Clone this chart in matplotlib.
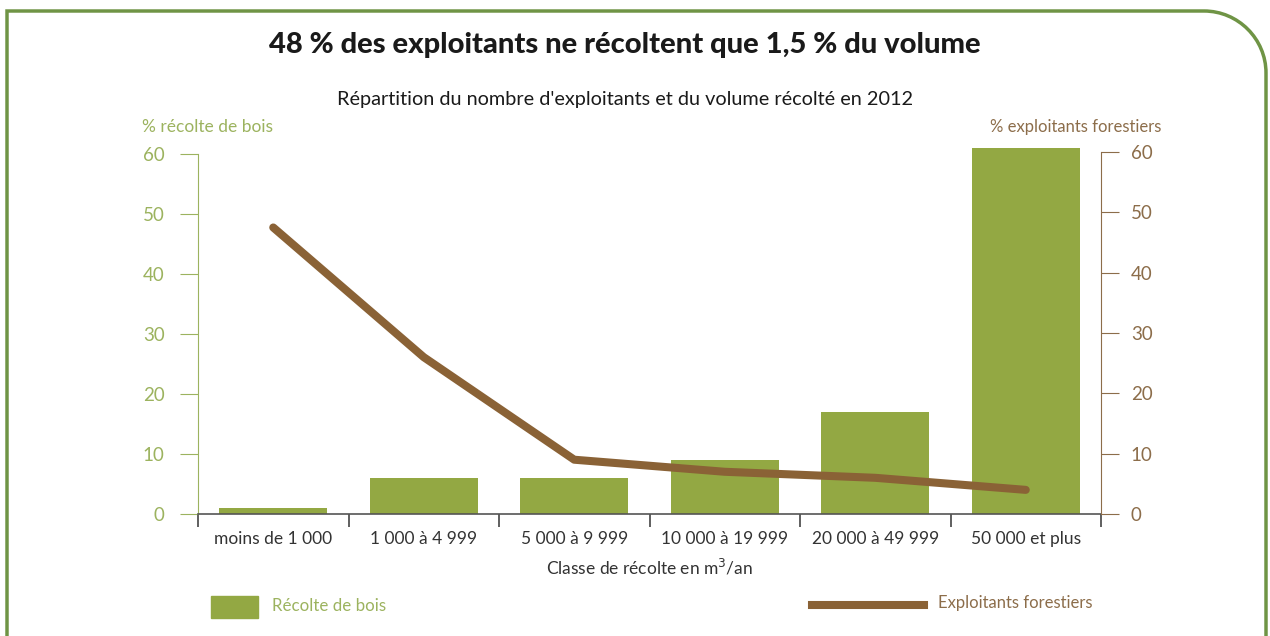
import matplotlib
matplotlib.use("Agg")
import matplotlib.pyplot as plt
from matplotlib.path import Path
from matplotlib.patches import PathPatch, Rectangle
from matplotlib.lines import Line2D

categories = ["moins de 1 000", "1 000 à 4 999", "5 000 à 9 999",
              "10 000 à 19 999", "20 000 à 49 999", "50 000 et plus"]
recolte = [1, 6, 6, 9, 17, 61]
exploitants = [47.5, 26, 9, 7, 6, 4]
yticks = [0, 10, 20, 30, 40, 50, 60]

FONT = ["Lato", "DejaVu Sans"]
plt.rcParams["font.family"] = FONT

GREEN = "#93a843"
GREEN_TXT = "#9cb35f"
BROWN = "#8a6236"
BROWN_TXT = "#8c6d4a"
DARK = "#333333"
FRAME = "#6f9445"

W, H = 1270, 636
fig = plt.figure(figsize=(W / 100, H / 100), dpi=100)

def fx(x):
    return x / W

def fy(y):
    return 1 - y / H

# frame with rounded top-right corner
r = 62
verts = [(fx(7), fy(H + 5)), (fx(7), fy(11)), (fx(1266 - r), fy(11)),
         (fx(1266 - r * 0.45), fy(11)), (fx(1266), fy(11 + r * 0.45)), (fx(1266), fy(11 + r)),
         (fx(1266), fy(H + 5))]
codes = [Path.MOVETO, Path.LINETO, Path.LINETO, Path.CURVE4, Path.CURVE4, Path.CURVE4, Path.LINETO]
fig.patches.append(PathPatch(Path(verts, codes), transform=fig.transFigure,
                             fill=False, edgecolor=FRAME, lw=2.5))

ax = fig.add_axes([fx(198), fy(514), fx(1101) - fx(198), (514 - 142) / H])
x = list(range(len(categories)))
ax.bar(x, recolte, width=0.72, color=GREEN, zorder=2)
ax.set_xlim(-0.5, len(categories) - 0.5)
ax.set_ylim(0, 62)

for s in ["top", "right"]:
    ax.spines[s].set_visible(False)
ax.spines["left"].set_color(GREEN_TXT)
ax.spines["left"].set_bounds(0, 60)
ax.spines["bottom"].set_color("#555555")
ax.spines["bottom"].set_linewidth(1.2)
ax.spines["bottom"].set_zorder(3)

ax.set_yticks(yticks)
ax.tick_params(axis="y", colors=GREEN_TXT, length=13, pad=11, labelsize=13.5)
ax.set_xticks(x)
ax.set_xticklabels(categories, fontsize=12.5, color=DARK)
ax.tick_params(axis="x", length=0, pad=12)
ax.set_xticks([i - 0.5 for i in range(len(categories) + 1)], minor=True)
ax.tick_params(axis="x", which="minor", length=9, color="#444444", width=1.2)
ax.set_xlabel("Classe de récolte en m$^3$/an", fontsize=12.5,
              color=DARK, labelpad=8)

ax2 = ax.twinx()
ax2.plot(x, exploitants, color=BROWN, lw=5.8, solid_capstyle="round", zorder=4)
ax2.set_ylim(0, 61.67)
for s in ["top", "left", "bottom"]:
    ax2.spines[s].set_visible(False)
ax2.spines["right"].set_color(BROWN_TXT)
ax2.spines["right"].set_bounds(0, 60)
ax2.set_yticks(yticks)
ax2.tick_params(axis="y", colors=BROWN_TXT, length=13, pad=8.5, labelsize=13.5)

fig.text(fx(625), fy(45), "48 % des exploitants ne récoltent que 1,5 % du volume",
         ha="center", va="center", fontsize=21, fontweight="black", color="#1a1a1a")
fig.text(fx(625), fy(100), "Répartition du nombre d'exploitants et du volume récolté en 2012",
         ha="center", va="center", fontsize=14.3, color="#1a1a1a")
fig.text(fx(208), fy(127), "% récolte de bois", ha="center", va="center",
         fontsize=12.5, color=GREEN_TXT)
fig.text(fx(1076), fy(127), "% exploitants forestiers", ha="center", va="center",
         fontsize=12, color=BROWN_TXT)

# legend
fig.patches.append(Rectangle((fx(211), fy(618)), fx(258) - fx(211), (618 - 596) / H,
                             transform=fig.transFigure, color=GREEN))
fig.text(fx(272), fy(606), "Récolte de bois", ha="left", va="center",
         fontsize=12.2, color=GREEN_TXT)
fig.lines.append(Line2D([fx(812), fx(924)], [fy(605), fy(605)], transform=fig.transFigure,
                        color=BROWN, lw=5.8))
fig.text(fx(938), fy(603), "Exploitants forestiers", ha="left", va="center",
         fontsize=12, color=BROWN_TXT)

fig.savefig("out.png", dpi=100)
